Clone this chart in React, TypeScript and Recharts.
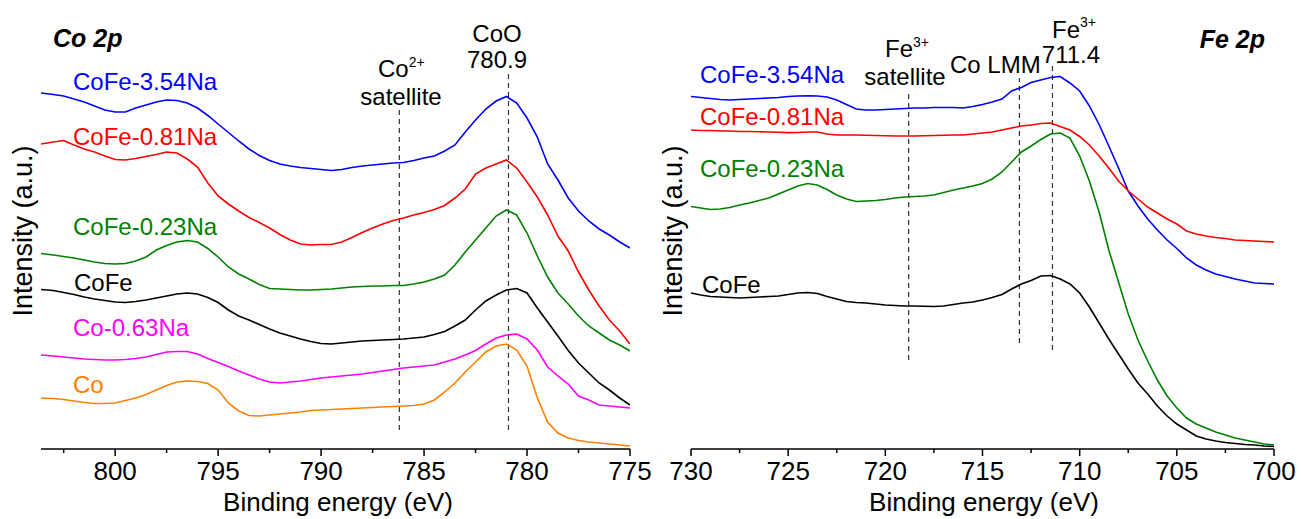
import React from 'react';
import { LineChart, Line, XAxis, YAxis, ReferenceLine } from 'recharts';

// Co 2p panel, binding energy (eV), 0.5 eV steps
const CO_ENERGY = [
  803.6, 803, 802.5, 802, 801.5, 801, 800.5, 800, 799.5, 799,
  798.5, 798, 797.5, 797, 796.5, 796, 795.5, 795, 794.5, 794,
  793.5, 793, 792.5, 792, 791.5, 791, 790.5, 790, 789.5, 789,
  788.5, 788, 787.5, 787, 786.5, 786, 785.5, 785, 784.5, 784,
  783.5, 783, 782.5, 782, 781.5, 781, 780.5, 780, 779.5, 779,
  778.5, 778, 777.5, 777, 776.5, 776, 775.5, 775,
];

// intensities (a.u., offset stacked as in the figure)
const CO_COFE_354 = [
  356, 354.5, 353, 350, 347, 343, 339, 337, 337, 341,
  344, 347, 349, 348.5, 346, 341, 333.5, 325, 316.5, 308,
  300, 293.5, 288.5, 285, 283, 281.5, 280.5, 279.5, 278.5, 279.5,
  281.5, 283, 284, 285, 286, 286.5, 288.5, 291, 293, 298,
  304, 317, 329, 340, 348, 352.5, 346, 331, 312, 285,
  269, 251, 238, 228, 220, 214, 207, 201,
];
const CO_COFE_081 = [
  305, 307, 308.5, 304, 300, 297, 293, 289.5, 289, 290.5,
  292.5, 294.5, 297, 296, 290, 282, 266, 253, 245, 238,
  231.5, 226.5, 221, 214.5, 209, 205, 204, 204.5, 204.5, 207,
  211.5, 216.5, 221, 225, 228.5, 231, 234, 236.5, 239.5, 243.5,
  251, 260, 275, 281, 285, 289, 281, 267, 252, 234,
  213, 198, 177, 159, 143, 129, 118, 105,
];
const CO_COFE_023 = [
  195.5, 194, 192.5, 191, 189, 187, 185.5, 185, 185.5, 188,
  192, 199, 203.5, 207, 208.5, 207, 200.5, 192, 182, 175,
  170, 164.5, 160.5, 160, 159.5, 159, 159, 159.5, 160, 161,
  162, 162.5, 163, 163, 163.5, 163.5, 165, 167, 170, 174,
  184, 197, 209, 221, 233, 239, 234, 216, 193, 172,
  156, 145, 133, 123, 116, 109, 104, 98,
];
const CO_COFE = [
  159.5, 158.5, 156.5, 154.5, 152, 150, 148.5, 147, 146.5, 147.5,
  149, 151, 153, 155, 156, 155, 151.5, 146.5, 139, 133,
  129, 124.5, 120, 116, 113, 110, 107.5, 105.5, 105, 106,
  107, 108, 108.5, 109, 109.5, 110, 111, 112, 114.5, 117.5,
  123, 129, 139, 148, 154, 159, 160.5, 156, 141, 127,
  113, 98.5, 86, 76, 66, 59, 51, 44,
];
const CO_CO_063 = [
  94, 93, 92, 91, 90, 89.5, 89, 89, 89.5, 90.5,
  92, 94.5, 97, 97.5, 97.5, 95, 90.5, 86.5, 82.5, 78,
  74, 70, 67, 66, 67, 68, 69.5, 71, 72, 73,
  74, 75, 76.5, 78, 79.5, 81, 82, 83, 84, 87,
  90, 94, 98.5, 105, 111, 114, 115, 110, 99, 82,
  73, 65, 53, 49, 44, 43, 42, 41,
];
const CO_CO = [
  51, 50.5, 49.5, 48, 46.5, 45.5, 45.5, 46, 48.5, 51,
  54.5, 59, 63.5, 67, 68, 67.5, 65.5, 59, 46, 38,
  33.5, 33, 34, 35, 36, 37, 38.5, 39, 39.5, 40,
  40.5, 41, 41.5, 42, 42.5, 43, 43.5, 45, 49, 57,
  66, 77, 87, 97, 103, 105, 99, 83, 51, 27,
  16, 11, 8.5, 7, 6, 5, 4, 3,
];

// Fe 2p panel
const FE_ENERGY = [
  730, 729.5, 729, 728.5, 728, 727.5, 727, 726.5, 726, 725.5,
  725, 724.5, 724, 723.5, 723, 722.5, 722, 721.5, 721, 720.5,
  720, 719.5, 719, 718.5, 718, 717.5, 717, 716.5, 716, 715.5,
  715, 714.5, 714, 713.5, 713, 712.5, 712, 711.5, 711, 710.5,
  710, 709.5, 709, 708.5, 708, 707.5, 707, 706.5, 706, 705.5,
  705, 704.5, 704, 703.5, 703, 702.5, 702, 701.5, 701, 700.5, 700,
];
const FE_COFE_354 = [
  352.5, 351.5, 350.5, 349.5, 349, 349.5, 350, 350.5, 351, 351.5,
  352.5, 353, 353.2, 353, 352, 349, 344.5, 340, 339, 339,
  339.5, 340, 340.5, 341, 341, 341.5, 341.5, 341.5, 341, 342.5,
  344.5, 347, 350, 358, 361.5, 366.5, 369, 371.5, 372.5, 366,
  358, 343, 324.5, 303, 281, 258, 243, 230, 219, 209,
  200.5, 191, 184, 179, 175, 172.5, 170, 168, 166, 165.5, 165,
];
const FE_COFE_081 = [
  319, 318.5, 318.5, 318, 318, 317.5, 317.5, 317.3, 317, 316.7,
  316.4, 316.5, 317, 317, 315, 314, 314, 314, 313.8, 313.5,
  313.3, 313, 313, 313, 313.2, 313.5, 313.7, 314, 314, 315,
  316, 317, 319, 321, 323, 324, 325.5, 326, 322.5, 319,
  312.5, 304, 293, 281, 268, 258, 250, 242, 236, 230,
  225, 218, 215, 213, 211.5, 210.5, 209, 208.5, 208, 207.5, 207,
];
const FE_COFE_023 = [
  242.5, 241, 239.5, 240, 241.5, 244, 246, 248.5, 251, 255,
  259, 263, 265.5, 264, 259.5, 254, 250, 247.5, 248, 248.5,
  249.5, 251, 252, 252.5, 253, 254, 256.5, 259, 261, 263,
  265.5, 270, 277, 287, 297, 303, 309.5, 315, 316, 311,
  293, 268, 237, 199, 167, 135, 109, 88, 69, 53,
  41, 31, 25, 21, 17, 14, 11, 9, 7, 5, 4,
];
const FE_COFE = [
  156, 154, 152.5, 152, 151.5, 151, 151.5, 152, 152.5, 153,
  154.5, 156, 156.5, 155.5, 152.5, 150, 147.5, 146.5, 146, 145,
  144, 143.5, 143, 143, 142.7, 142.5, 143, 144.5, 146, 147,
  149, 151.5, 154.5, 160, 165, 168.5, 173, 173.5, 170, 165,
  156, 142, 126, 110, 95, 80, 66, 55, 43, 33,
  25, 19, 13, 10, 8, 6.5, 5.5, 4.5, 4, 3, 2.5,
];

const CO_X_TICKS = [775, 777.5, 780, 782.5, 785, 787.5, 790, 792.5, 795, 797.5, 800, 802.5];
const FE_X_TICKS = [700, 702.5, 705, 707.5, 710, 712.5, 715, 717.5, 720, 722.5, 725, 727.5, 730];
const CO_Y_TICKS = [0, 43.3, 86.7, 130, 173.3, 216.7, 260, 303.3, 346.7, 390, 433.3];
const FE_Y_TICKS = [0, 84, 168, 252, 336, 420];

// peak markers: [energy, lower, upper]
const CO_MARKERS = [[786.2, 19, 339], [780.9, 19, 376]];
const FE_MARKERS = [[718.8, 89, 356], [713.1, 106, 371], [711.4, 99, 387]];

const FONT = '"Liberation Sans", Arial, Helvetica, sans-serif';
const BLUE = '#0000ff';
const RED = '#ff0000';
const GREEN = '#008000';
const BLACK = '#000000';
const MAGENTA = '#ff00ff';
const ORANGE = '#ff8000';

interface Series {
  key: string;
  color: string;
  values: number[];
}

const coSeries: Series[] = [
  { key: 'cofe354', color: BLUE, values: CO_COFE_354 },
  { key: 'cofe081', color: RED, values: CO_COFE_081 },
  { key: 'cofe023', color: GREEN, values: CO_COFE_023 },
  { key: 'cofe', color: BLACK, values: CO_COFE },
  { key: 'co063', color: MAGENTA, values: CO_CO_063 },
  { key: 'co', color: ORANGE, values: CO_CO },
];
const feSeries: Series[] = [
  { key: 'cofe354', color: BLUE, values: FE_COFE_354 },
  { key: 'cofe081', color: RED, values: FE_COFE_081 },
  { key: 'cofe023', color: GREEN, values: FE_COFE_023 },
  { key: 'cofe', color: BLACK, values: FE_COFE },
];

const buildRows = (energy: number[], series: Series[]) =>
  energy.map((e, i) => {
    const row: { [k: string]: number } = { e };
    series.forEach(s => {
      row[s.key] = s.values[i];
    });
    return row;
  });

// bottom axis: long ticks + labels every 5 eV, short ticks in between
const BottomTick = (props: any) => {
  const { x, y, payload } = props;
  const major = payload.value % 5 === 0;
  return (
    <g>
      <line x1={x} x2={x} y1={y} y2={y + (major ? 7 : 4)} stroke="#000" strokeWidth={1.5} />
      {major && (
        <text x={x} y={y + 31} textAnchor="middle" fontSize={26} fontFamily={FONT} fill="#000">
          {payload.value}
        </text>
      )}
    </g>
  );
};

// top axis: ticks pointing into the plot
const TopTick = (props: any) => {
  const { x, y, payload } = props;
  const major = payload.value % 5 === 0;
  return <line x1={x} x2={x} y1={y} y2={y + (major ? 6 : 4)} stroke="#000" strokeWidth={1.5} />;
};

const AXIS = { stroke: '#000', strokeWidth: 1.5 };

interface PanelProps {
  width: number;
  marginLeft: number;
  marginRight: number;
  domain: [number, number];
  xTicks: number[];
  yTicks: number[];
  energy: number[];
  series: Series[];
  markers: number[][];
}

const Panel: React.FC<PanelProps> = ({ width, marginLeft, marginRight, domain, xTicks, yTicks, energy, series, markers }) => {
  const rows = buildRows(energy, series);
  return (
    <LineChart width={width} height={519} data={rows} margin={{ top: 13, right: marginRight, bottom: 0, left: marginLeft }}>
      <XAxis dataKey="e" type="number" domain={domain} reversed allowDataOverflow ticks={xTicks}
        height={70} tickSize={0} tickMargin={0} axisLine={AXIS} tickLine={false} tick={<BottomTick />} interval={0} />
      <XAxis xAxisId="top" orientation="top" dataKey="e" type="number" domain={domain} reversed allowDataOverflow
        ticks={xTicks} height={0} mirror tickSize={0} tickMargin={0} axisLine={AXIS} tickLine={false}
        tick={<TopTick />} interval={0} />
      <YAxis type="number" domain={[0, 436]} allowDataOverflow ticks={yTicks} width={0} mirror tickSize={5}
        axisLine={AXIS} tickLine={AXIS} tick={false} interval={0} />
      <YAxis yAxisId="right" orientation="right" type="number" domain={[0, 436]} allowDataOverflow ticks={yTicks}
        width={0} mirror tickSize={5} axisLine={AXIS} tickLine={AXIS} tick={false} interval={0} />
      {markers.map(([e, lo, hi]) => (
        <ReferenceLine key={e} segment={[{ x: e, y: lo }, { x: e, y: hi }]} stroke="#333" strokeWidth={1.2} strokeDasharray="5 4" />
      ))}
      {series.map(s => (
        <Line key={s.key} dataKey={s.key} type="linear" stroke={s.color} strokeWidth={1.6} dot={false}
          activeDot={false} isAnimationActive={false} />
      ))}
    </LineChart>
  );
};

const T: React.FC<{ x: number; y: number; c?: string; a?: 'start' | 'middle' | 'end'; s?: number; children: React.ReactNode; bold?: boolean }> = ({ x, y, c = '#000', a = 'start', s = 24, children, bold }) => (
  <text x={x} y={y} fill={c} textAnchor={a} fontSize={s} fontFamily={FONT}
    fontWeight={bold ? 'bold' : 'normal'} fontStyle={bold ? 'italic' : 'normal'}>
    {children}
  </text>
);

const Overlay = () => (
  <svg width={1301} height={519} style={{ position: 'absolute', left: 0, top: 0, pointerEvents: 'none' }}>
    {/* Co 2p panel */}
    <T x={53} y={47} s={25} bold>Co 2p</T>
    <T x={73} y={90} c={BLUE}>CoFe-3.54Na</T>
    <T x={73} y={145} c={RED}>CoFe-0.81Na</T>
    <T x={73} y={235} c={GREEN}>CoFe-0.23Na</T>
    <T x={74} y={291} c={BLACK}>CoFe</T>
    <T x={73} y={336} c={MAGENTA}>Co-0.63Na</T>
    <T x={73} y={393} c={ORANGE}>Co</T>
    <text x={378} y={77} fontSize={24} fontFamily={FONT} fill="#000">
      Co<tspan fontSize={14} dy={-10}>2+</tspan>
    </text>
    <T x={401} y={105} a="middle">satellite</T>
    <T x={497} y={42} a="middle">CoO</T>
    <T x={497} y={68} a="middle">780.9</T>
    <text x={32} y={231} transform="rotate(-90 32 231)" textAnchor="middle" fontSize={27} fontFamily={FONT} fill="#000">
      Intensity (a.u.)
    </text>
    <T x={338} y={511} a="middle" s={26}>Binding energy (eV)</T>

    {/* Fe 2p panel */}
    <T x={1265} y={48} s={25} a="end" bold>Fe 2p</T>
    <T x={700} y={83} c={BLUE}>CoFe-3.54Na</T>
    <T x={700} y={125} c={RED}>CoFe-0.81Na</T>
    <T x={700} y={177} c={GREEN}>CoFe-0.23Na</T>
    <T x={702} y={293} c={BLACK}>CoFe</T>
    <text x={885} y={57} fontSize={24} fontFamily={FONT} fill="#000">
      Fe<tspan fontSize={14} dy={-10}>3+</tspan>
    </text>
    <T x={905} y={85} a="middle">satellite</T>
    <T x={950} y={73}>Co LMM</T>
    <text x={1052} y={38} fontSize={24} fontFamily={FONT} fill="#000">
      Fe<tspan fontSize={14} dy={-11}>3+</tspan>
    </text>
    <T x={1071} y={63} a="middle">711.4</T>
    <text x={682} y={231} transform="rotate(-90 682 231)" textAnchor="middle" fontSize={27} fontFamily={FONT} fill="#000">
      Intensity (a.u.)
    </text>
    <T x={984} y={511} a="middle" s={26}>Binding energy (eV)</T>
  </svg>
);

export default function App() {
  return (
    <div style={{ position: 'absolute', left: 0, top: 0, width: 1301, height: 519, background: '#fff' }}>
      <div style={{ position: 'absolute', left: 0, top: 0 }}>
        <Panel width={660} marginLeft={41} marginRight={30} domain={[775, 803.6]} xTicks={CO_X_TICKS}
          yTicks={CO_Y_TICKS} energy={CO_ENERGY} series={coSeries} markers={CO_MARKERS} />
      </div>
      <div style={{ position: 'absolute', left: 660, top: 0 }}>
        <Panel width={641} marginLeft={31} marginRight={27} domain={[700, 730]} xTicks={FE_X_TICKS}
          yTicks={FE_Y_TICKS} energy={FE_ENERGY} series={feSeries} markers={FE_MARKERS} />
      </div>
      <Overlay />
    </div>
  );
}
